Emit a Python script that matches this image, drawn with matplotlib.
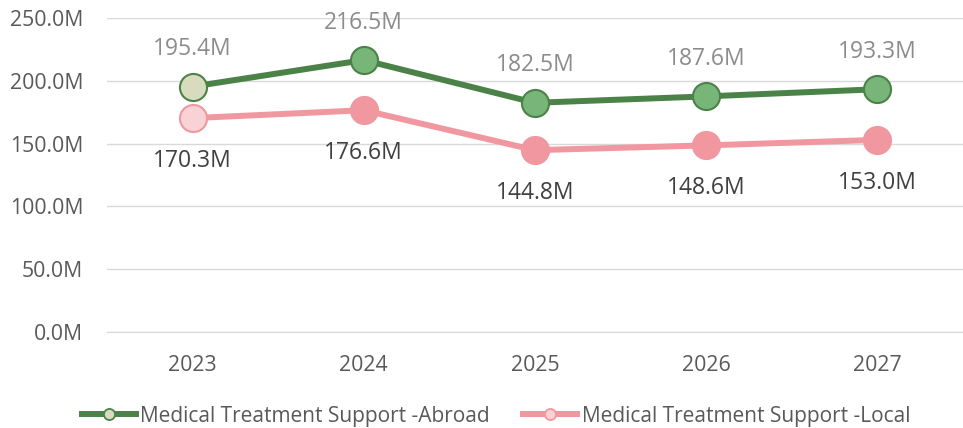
import matplotlib
matplotlib.use("Agg")
import matplotlib.pyplot as plt
from matplotlib.lines import Line2D

years = ["2023", "2024", "2025", "2026", "2027"]
abroad = [195.4, 216.5, 182.5, 187.6, 193.3]
local = [170.3, 176.6, 144.8, 148.6, 153.0]
yticks = [0, 50, 100, 150, 200, 250]

plt.rcParams['font.family'] = ['Open Sans', 'DejaVu Sans']

fig = plt.figure(figsize=(9.63, 4.28), dpi=100)
ax = fig.add_axes([0.111, 0.224, 0.889, 0.734])

x = list(range(len(years)))
g_line = '#4a8248'
g_fill = '#77b579'
g_first = '#d8dbbd'
p_line = '#f0979f'
p_first = '#f9d2d5'

ax.plot(x, abroad, color=g_line, lw=4.3, zorder=3, solid_capstyle='round')
ax.plot(x, local, color=p_line, lw=4.3, zorder=3, solid_capstyle='round')
for i in x:
    ax.plot(x[i], abroad[i], 'o', ms=19.5, mfc=g_first if i == 0 else g_fill,
            mec=g_line, mew=1.5, zorder=4)
    ax.plot(x[i], local[i], 'o', ms=19.5, mfc=p_first if i == 0 else p_line,
            mec=p_line, mew=1.5, zorder=4)
    ax.annotate(f"{abroad[i]:.1f}M", (x[i], abroad[i]), xytext=(0, 27),
                textcoords='offset points', ha='center', va='center',
                fontsize=16.5, color='#8c8c8c')
    ax.annotate(f"{local[i]:.1f}M", (x[i], local[i]), xytext=(0, -31),
                textcoords='offset points', ha='center', va='center',
                fontsize=16.5, color='#404040')

ax.set_xlim(-0.5, len(years) - 0.5)
ax.set_ylim(0, 250)
ax.set_yticks(yticks)
ax.set_yticklabels([f"{v:.1f}M" for v in yticks])
ax.set_xticks(x)
ax.set_xticklabels(years)
ax.grid(axis='y', color='#d9d9d9', lw=1)
ax.set_axisbelow(True)
for s in ['top', 'right', 'left']:
    ax.spines[s].set_visible(False)
ax.spines['bottom'].set_color('#d9d9d9')
ax.tick_params(axis='both', length=0, labelsize=15.3, colors='#595959')
ax.tick_params(axis='y', pad=17)
ax.tick_params(axis='x', pad=16.5)

handles = [
    Line2D([0], [0], color=g_line, lw=4.3, marker='o', ms=8, mfc=g_first, mec=g_line, mew=1.3),
    Line2D([0], [0], color=p_line, lw=4.3, marker='o', ms=8, mfc=p_first, mec=p_line, mew=1.3),
]
fig.legend(handles, ["Medical Treatment Support -Abroad", "Medical Treatment Support -Local"],
           loc='center', bbox_to_anchor=(0.515, 0.028), ncol=2, frameon=False,
           fontsize=15, labelcolor='#595959', handlelength=2.6, handletextpad=0.2,
           columnspacing=1.6)

fig.savefig("out.png", dpi=100)
